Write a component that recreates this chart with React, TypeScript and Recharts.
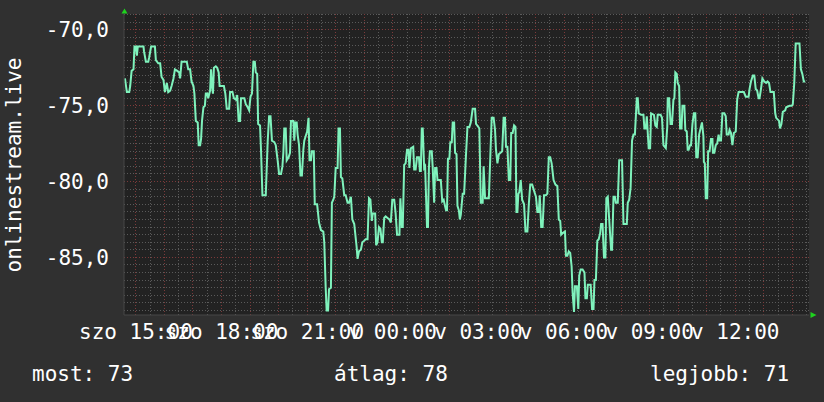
import { LineChart, Line, XAxis, YAxis, CartesianGrid, ReferenceLine, ReferenceDot } from "recharts";

// minutes since Saturday 00:00
const TIMES = [
  877, 881, 886, 888, 891, 895, 897, 900, 902, 904,
  916, 917, 921, 926, 928, 932, 940, 942, 947, 951,
  954, 958, 961, 965, 968, 972, 975, 979, 982, 987,
  991, 993, 996, 1007, 1010, 1014, 1017, 1021, 1023, 1026,
  1030, 1032, 1035, 1037, 1039, 1042, 1045, 1047, 1050, 1052,
  1056, 1058, 1060, 1062, 1064, 1068, 1071, 1074, 1076, 1085,
  1088, 1091, 1096, 1098, 1103, 1106, 1110, 1113, 1116, 1119,
  1121, 1128, 1131, 1135, 1138, 1141, 1144, 1147, 1150, 1152,
  1155, 1157, 1161, 1163, 1166, 1173, 1177, 1180, 1183, 1186,
  1191, 1194, 1198, 1201, 1205, 1208, 1210, 1212, 1215, 1217,
  1221, 1224, 1226, 1231, 1233, 1235, 1238, 1240, 1243, 1246,
  1249, 1252, 1254, 1257, 1260, 1263, 1265, 1268, 1270, 1274,
  1276, 1281, 1285, 1289, 1294, 1296, 1299, 1301, 1304, 1306,
  1310, 1312, 1315, 1317, 1320, 1324, 1326, 1329, 1331, 1334,
  1338, 1341, 1345, 1348, 1352, 1355, 1359, 1364, 1366, 1369,
  1373, 1376, 1380, 1383, 1387, 1390, 1393, 1396, 1398, 1403,
  1405, 1408, 1411, 1414, 1417, 1419, 1422, 1425, 1429, 1433,
  1436, 1439, 1443, 1446, 1449, 1454, 1456, 1459, 1461, 1464,
  1467, 1470, 1473, 1475, 1478, 1483, 1485, 1488, 1491, 1495,
  1497, 1499, 1501, 1503, 1506, 1508, 1510, 1512, 1514, 1516,
  1518, 1522, 1524, 1527, 1529, 1532, 1534, 1541, 1544, 1547,
  1549, 1552, 1554, 1556, 1559, 1561, 1564, 1566, 1569, 1571,
  1574, 1576, 1579, 1581, 1583, 1587, 1590, 1594, 1597, 1601,
  1604, 1608, 1613, 1615, 1620, 1622, 1625, 1629, 1631, 1634,
  1642, 1645, 1648, 1652, 1655, 1657, 1660, 1663, 1670, 1673,
  1676, 1678, 1681, 1684, 1687, 1689, 1692, 1695, 1698, 1700,
  1702, 1704, 1706, 1709, 1712, 1716, 1719, 1723, 1726, 1729,
  1733, 1736, 1739, 1741, 1744, 1747, 1749, 1752, 1755, 1758,
  1762, 1765, 1768, 1771, 1774, 1778, 1782, 1786, 1789, 1792,
  1794, 1797, 1802, 1804, 1807, 1810, 1813, 1816, 1818, 1821,
  1823, 1827, 1830, 1832, 1835, 1839, 1843, 1845, 1848, 1850,
  1856, 1859, 1862, 1864, 1867, 1870, 1873, 1876, 1878, 1881,
  1884, 1887, 1889, 1892, 1895, 1899, 1901, 1904, 1907, 1909,
  1913, 1916, 1922, 1925, 1932, 1934, 1937, 1940, 1943, 1946,
  1949, 1953, 1955, 1957, 1962, 1967, 1969, 1972, 1974, 1978,
  1981, 1983, 1989, 1992, 1995, 1997, 2003, 2006, 2009, 2014,
  2017, 2018, 2021, 2024, 2027, 2030, 2032, 2034, 2037, 2039,
  2042, 2044, 2047, 2049, 2053, 2055, 2058, 2060, 2062, 2065,
  2067, 2070, 2073, 2076, 2078, 2081, 2084, 2087, 2090, 2093,
  2094, 2096, 2098, 2101, 2103, 2106, 2109, 2112, 2113, 2116,
  2119, 2122, 2125, 2127, 2130, 2133, 2137, 2140, 2142, 2146,
  2148, 2151, 2154, 2157, 2161, 2164, 2167, 2178, 2182, 2188,
  2190, 2193, 2197, 2200, 2203, 2206, 2209, 2211, 2214, 2217,
  2221, 2225, 2228, 2231, 2234, 2241, 2244, 2246, 2252, 2254,
  2257, 2260, 2265, 2267, 2274, 2279, 2281, 2284, 2287, 2295,
  2298, 2301, 2304, 2307,
];

const VALUES = [
  -73.2, -74.1, -74.1, -73.7, -72.7, -72.6, -71.1, -71.1, -71.7, -71.1,
  -71.1, -71.4, -72.1, -72.1, -71.8, -71.1, -71.1, -72.0, -72.2, -72.2,
  -73.1, -73.3, -74.1, -73.5, -74.1, -74.0, -73.7, -73.2, -72.6, -72.7,
  -72.8, -73.2, -72.1, -72.1, -72.6, -72.6, -73.4, -73.7, -74.2, -76.0,
  -76.1, -77.6, -77.6, -77.2, -76.0, -75.1, -75.0, -74.2, -74.2, -74.5,
  -74.0, -72.6, -73.7, -74.2, -72.5, -72.4, -72.5, -72.8, -73.7, -73.7,
  -74.2, -75.2, -75.2, -74.1, -74.1, -74.5, -74.6, -74.3, -76.0, -76.0,
  -74.5, -74.5, -74.9, -75.1, -75.3, -74.4, -74.2, -72.1, -72.1, -72.8,
  -72.9, -76.2, -76.3, -77.9, -80.9, -80.9, -77.4, -75.7, -75.7, -77.3,
  -77.4, -77.6, -78.6, -79.5, -79.5, -79.0, -78.1, -76.5, -76.5, -78.6,
  -78.4, -78.1, -76.0, -76.0, -77.3, -76.1, -76.1, -76.9, -77.6, -79.6,
  -79.6, -77.9, -77.3, -77.0, -76.7, -75.8, -78.6, -78.6, -78.0, -78.0,
  -81.5, -81.5, -82.7, -83.2, -83.3, -84.0, -87.0, -88.5, -88.5, -87.1,
  -87.0, -81.4, -81.2, -81.0, -79.1, -79.1, -76.5, -76.5, -79.7, -79.8,
  -80.9, -80.9, -81.4, -81.4, -81.0, -82.5, -82.8, -84.3, -85.1, -84.6,
  -84.5, -84.0, -83.9, -83.8, -83.8, -81.1, -81.2, -82.6, -82.1, -82.1,
  -84.2, -84.0, -83.0, -83.1, -84.0, -84.0, -82.4, -82.3, -82.4, -82.5,
  -82.7, -81.2, -81.2, -82.1, -83.5, -83.5, -81.1, -83.0, -83.0, -78.9,
  -78.8, -77.9, -77.9, -79.1, -77.8, -77.7, -79.2, -79.2, -78.4, -78.4,
  -79.3, -79.3, -76.5, -76.5, -79.1, -79.0, -81.0, -83.0, -83.0, -79.1,
  -78.0, -78.0, -79.1, -81.4, -79.1, -79.1, -79.9, -79.9, -81.3, -81.2,
  -81.5, -81.9, -81.9, -78.5, -78.5, -77.4, -77.4, -76.1, -76.1, -78.1,
  -78.2, -81.6, -81.9, -82.5, -82.2, -80.8, -80.8, -78.2, -76.4, -76.4,
  -76.1, -75.2, -75.2, -76.2, -76.4, -76.5, -81.4, -81.4, -79.0, -81.1,
  -81.1, -78.4, -75.8, -75.8, -76.6, -77.9, -78.8, -78.2, -78.0, -75.8,
  -75.8, -77.7, -77.7, -79.9, -79.9, -76.8, -76.8, -76.3, -76.4, -82.0,
  -82.0, -80.8, -80.7, -79.9, -81.2, -81.5, -83.3, -83.3, -81.5, -80.2,
  -80.2, -80.5, -80.8, -81.0, -82.0, -82.0, -80.9, -83.0, -83.0, -80.9,
  -80.9, -80.8, -78.4, -78.4, -78.8, -79.9, -80.2, -80.3, -82.5, -82.6,
  -83.5, -83.4, -83.3, -84.9, -84.9, -84.6, -84.7, -85.6, -87.3, -88.6,
  -86.9, -86.9, -88.4, -86.2, -85.8, -85.8, -86.0, -87.7, -87.7, -86.8,
  -86.8, -88.4, -88.4, -86.5, -86.5, -83.9, -83.8, -83.4, -82.8, -82.8,
  -85.0, -85.0, -81.1, -81.0, -82.5, -84.5, -84.5, -81.0, -81.0, -81.4,
  -81.4, -78.6, -78.6, -82.8, -82.8, -81.4, -81.2, -80.4, -77.3, -76.9,
  -76.9, -74.5, -74.5, -75.5, -75.6, -75.6, -76.5, -76.5, -75.7, -77.8,
  -77.8, -75.5, -75.6, -76.3, -76.4, -75.6, -75.6, -75.8, -77.6, -77.8,
  -76.4, -74.5, -74.5, -76.2, -76.2, -74.6, -74.5, -72.8, -72.9, -73.5,
  -73.7, -76.5, -76.5, -75.0, -75.0, -76.6, -76.7, -77.9, -77.9, -77.6,
  -77.6, -76.2, -75.5, -75.5, -78.4, -78.4, -76.9, -76.5, -76.1, -77.0,
  -78.7, -78.8, -81.1, -81.1, -78.0, -78.0, -77.2, -77.2, -78.1, -78.1,
  -77.6, -77.5, -76.9, -77.3, -77.3, -75.5, -75.5, -75.7, -76.9, -76.9,
  -76.6, -76.8, -77.6, -76.8, -76.7, -74.6, -74.1, -74.1, -74.4, -74.4,
  -73.9, -73.4, -73.0, -73.0, -73.9, -74.0, -74.5, -74.5, -73.9, -73.2,
  -73.4, -73.5, -73.4, -73.5, -74.1, -74.1, -75.5, -75.8, -76.0, -76.5,
  -76.2, -75.4, -75.3, -75.1, -75.0, -75.0, -74.9, -73.5, -70.9, -70.9,
  -72.6, -72.9, -73.4, -73.4,
];

const X_TICKS = [900, 1080, 1260, 1440, 1620, 1800, 1980, 2160];
const X_LABELS = ["szo 15:00", "szo 18:00", "szo 21:00", "v 00:00", "v 03:00", "v 06:00", "v 09:00", "v 12:00"];
const Y_TICKS = [-85, -80, -75, -70];

const SUMMARY_NAMES = ["most", "átlag", "legjobb"];
const SUMMARY_VALUES = [73, 78, 71];

const X_MIN = 875;
const X_MAX = 2315;
const Y_MIN = -88.8;
const Y_MAX = -68.95;

const FONT = "DejaVu Sans Mono";
const LINE_COLOR = "#7ff2bc";
const MINOR = "#5a5a5a";
const MAJOR = "#7c3a3a";
const ARROW = "#1ed21e";

const data = TIMES.map((t, i) => ({ t, v: VALUES[i] }));

// grid positions: every 30 min / every 0.5 unit, majors each hour / 5 units
const vMinor: number[] = [];
const vMajor: number[] = [];
for (let t = 900; t < X_MAX; t += 30) {
  if (t % 60 === 0) vMajor.push(t);
  else vMinor.push(t);
}
const hMinor: number[] = [];
const hMajor: number[] = [];
for (let k = -177; k <= -138; k++) {
  if (k % 10 === 0) hMajor.push(k / 2);
  else hMinor.push(k / 2);
}

const UpArrow = (p: any) => (
  <polygon
    points={`${p.cx - 2.5},${p.cy - 0.5} ${p.cx + 3.5},${p.cy - 0.5} ${p.cx + 0.5},${p.cy - 5.5}`}
    fill={ARROW}
  />
);

const RightArrow = (p: any) => (
  <polygon
    points={`${p.cx + 1.5},${p.cy - 3} ${p.cx + 1.5},${p.cy + 3} ${p.cx + 7.5},${p.cy}`}
    fill={ARROW}
  />
);

export default function App() {
  const tickStyle = { fill: "#ffffff", fontSize: 21, fontFamily: FONT };
  const summaryX = [32, 334, 650];
  const gridProps = { strokeDasharray: "1 2", shapeRendering: "crispEdges" } as any;

  return (
    <div style={{ position: "absolute", left: 0, top: 0, width: 824, height: 402, background: "#303030" }}>
      <LineChart width={824} height={402} data={data} margin={{ top: 14, right: 15, bottom: 0, left: 0 }}>
        <CartesianGrid fill="#222222" horizontal={false} vertical={false} />
        <XAxis
          dataKey="t"
          type="number"
          domain={[X_MIN, X_MAX]}
          allowDataOverflow
          ticks={X_TICKS}
          interval={0}
          tickFormatter={(v: number) => X_LABELS[X_TICKS.indexOf(v)]}
          tick={tickStyle}
          tickLine={false}
          tickSize={0}
          tickMargin={9}
          height={87}
          axisLine={{ stroke: "#464646" }}
        />
        <YAxis
          type="number"
          domain={[Y_MIN, Y_MAX]}
          allowDataOverflow
          ticks={Y_TICKS}
          interval={0}
          tickFormatter={(v: number) => v.toFixed(1).replace(".", ",")}
          tick={tickStyle}
          tickLine={false}
          tickSize={0}
          tickMargin={15}
          width={124}
          axisLine={{ stroke: "#464646" }}
        />
        {hMinor.map((y) => (
          <ReferenceLine key={`hm${y}`} y={y} stroke={MINOR} {...gridProps} />
        ))}
        {vMinor.map((x) => (
          <ReferenceLine key={`vm${x}`} x={x} stroke={MINOR} {...gridProps} />
        ))}
        {hMajor.map((y) => (
          <ReferenceLine key={`hM${y}`} y={y} stroke={MAJOR} {...gridProps} />
        ))}
        {vMajor.map((x) => (
          <ReferenceLine key={`vM${x}`} x={x} stroke={MAJOR} {...gridProps} />
        ))}
        <Line
          type="linear"
          dataKey="v"
          stroke={LINE_COLOR}
          strokeWidth={2}
          dot={false}
          isAnimationActive={false}
        />
        <ReferenceDot x={X_MIN} y={Y_MAX} r={0} shape={UpArrow} ifOverflow="visible" />
        <ReferenceDot x={X_MAX} y={Y_MIN} r={0} shape={RightArrow} ifOverflow="visible" />
      </LineChart>
      <svg
        width={824}
        height={402}
        style={{ position: "absolute", left: 0, top: 0, pointerEvents: "none" }}
      >
        <text
          x={21}
          y={165}
          transform="rotate(-90 21 165)"
          textAnchor="middle"
          fill="#ffffff"
          fontSize={21}
          fontFamily={FONT}
        >
          onlinestream.live
        </text>
        {SUMMARY_NAMES.map((n, i) => (
          <text key={n} x={summaryX[i]} y={381} fill="#ffffff" fontSize={21} fontFamily={FONT}>
            {`${n}: ${SUMMARY_VALUES[i]}`}
          </text>
        ))}
      </svg>
    </div>
  );
}
